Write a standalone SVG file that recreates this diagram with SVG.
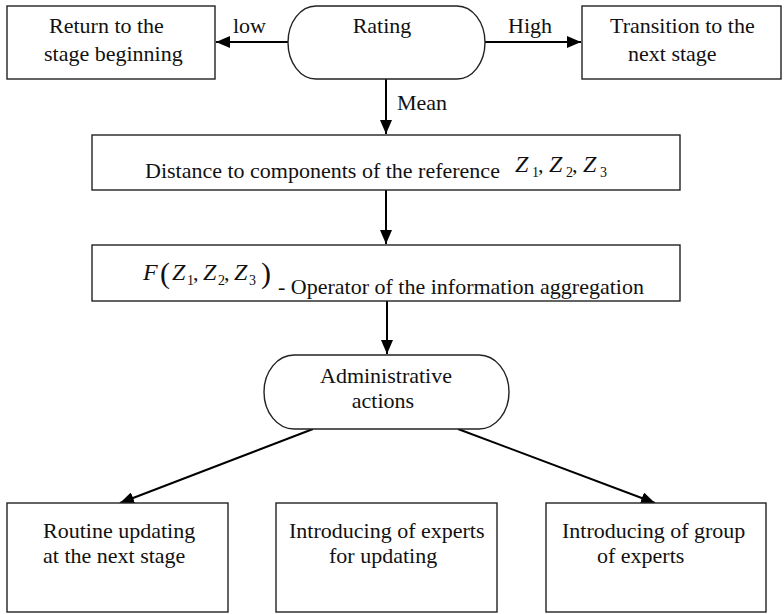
<svg xmlns="http://www.w3.org/2000/svg" width="784" height="614" viewBox="0 0 784 614">
  <style>
    .box { fill: #fff; stroke: #222; stroke-width: 1.4; }
    .conn { stroke: #000; stroke-width: 2; fill: none; }
    text { font-family: 'Liberation Serif', Tinos, 'Times New Roman', Times, 'DejaVu Serif', serif; font-size: 22px; fill: #111; }
    .mi { font-style: italic; font-size: 24px; }
    .sub { font-size: 14px; }
    .par { font-size: 30px; }
  </style>
  <defs>
    <marker id="arrow" markerUnits="userSpaceOnUse" markerWidth="15" markerHeight="12" refX="14" refY="6" orient="auto">
      <path d="M0,0 L14,6 L0,12 Z" fill="#000"/>
    </marker>
  </defs>

  <rect width="784" height="614" fill="#fff"/>

  <!-- connectors and their labels -->
  <g id="connectors">
    <line class="conn" x1="288" y1="42" x2="216" y2="42" marker-end="url(#arrow)"/>
    <line class="conn" x1="485" y1="42" x2="581" y2="42" marker-end="url(#arrow)"/>
    <line class="conn" x1="386" y1="79" x2="386" y2="134" marker-end="url(#arrow)"/>
    <line class="conn" x1="386" y1="190" x2="386" y2="244" marker-end="url(#arrow)"/>
    <line class="conn" x1="387" y1="301" x2="387" y2="354" marker-end="url(#arrow)"/>
    <line class="conn" x1="313" y1="429" x2="120" y2="503" marker-end="url(#arrow)"/>
    <line class="conn" x1="458" y1="429" x2="655" y2="503" marker-end="url(#arrow)"/>
    <text x="233" y="33">low</text>
    <text x="508" y="33">High</text>
    <text x="397" y="110">Mean</text>
  </g>

  <!-- top row -->
  <g id="return-box">
    <rect class="box" x="7" y="6" width="208" height="73"/>
    <text x="49" y="33">Return to the</text>
    <text x="44" y="61">stage beginning</text>
  </g>
  <g id="rating">
    <rect class="box" x="288" y="6" width="197" height="73" rx="28" ry="36.5"/>
    <text x="382" y="33" text-anchor="middle">Rating</text>
  </g>
  <g id="transition-box">
    <rect class="box" x="582" y="6" width="199" height="73"/>
    <text x="610" y="33">Transition to the</text>
    <text x="628" y="61">next stage</text>
  </g>

  <!-- distance to reference components -->
  <g id="distance">
    <rect class="box" x="92" y="135" width="588" height="55"/>
    <text x="145" y="178">Distance to components of the reference</text>
    <text class="mi" x="515" y="172">Z</text><text class="sub" x="532" y="177">1</text><text x="538" y="172">,</text>
    <text class="mi" x="549" y="172">Z</text><text class="sub" x="566" y="177">2</text><text x="572" y="172">,</text>
    <text class="mi" x="583" y="172">Z</text><text class="sub" x="600" y="177">3</text>
  </g>

  <!-- aggregation operator -->
  <g id="aggregation">
    <rect class="box" x="92" y="245" width="588" height="56"/>
    <text class="mi" x="143" y="280">F</text>
    <text class="par" x="160" y="283">(</text>
    <text class="mi" x="172" y="280">Z</text><text class="sub" x="187" y="285">1</text><text x="193" y="280">,</text>
    <text class="mi" x="203" y="280">Z</text><text class="sub" x="218" y="285">2</text><text x="224" y="280">,</text>
    <text class="mi" x="234" y="280">Z</text><text class="sub" x="249" y="285">3</text>
    <text class="par" x="261" y="283">)</text>
    <text x="278" y="294">- Operator of the information aggregation</text>
  </g>

  <!-- administrative actions -->
  <g id="admin">
    <rect class="box" x="264" y="355" width="245" height="74" rx="30" ry="37"/>
    <text x="386" y="383" text-anchor="middle">Administrative</text>
    <text x="383" y="408" text-anchor="middle">actions</text>
  </g>

  <!-- outcome boxes -->
  <g id="routine">
    <rect class="box" x="7" y="503" width="221" height="109"/>
    <text x="43" y="538">Routine updating</text>
    <text x="43" y="563">at the next stage</text>
  </g>
  <g id="experts">
    <rect class="box" x="276" y="503" width="221" height="109"/>
    <text x="289" y="538">Introducing of experts</text>
    <text x="329" y="563">for updating</text>
  </g>
  <g id="group">
    <rect class="box" x="546" y="503" width="220" height="109"/>
    <text x="562" y="538">Introducing of group</text>
    <text x="597" y="563">of experts</text>
  </g>
</svg>
